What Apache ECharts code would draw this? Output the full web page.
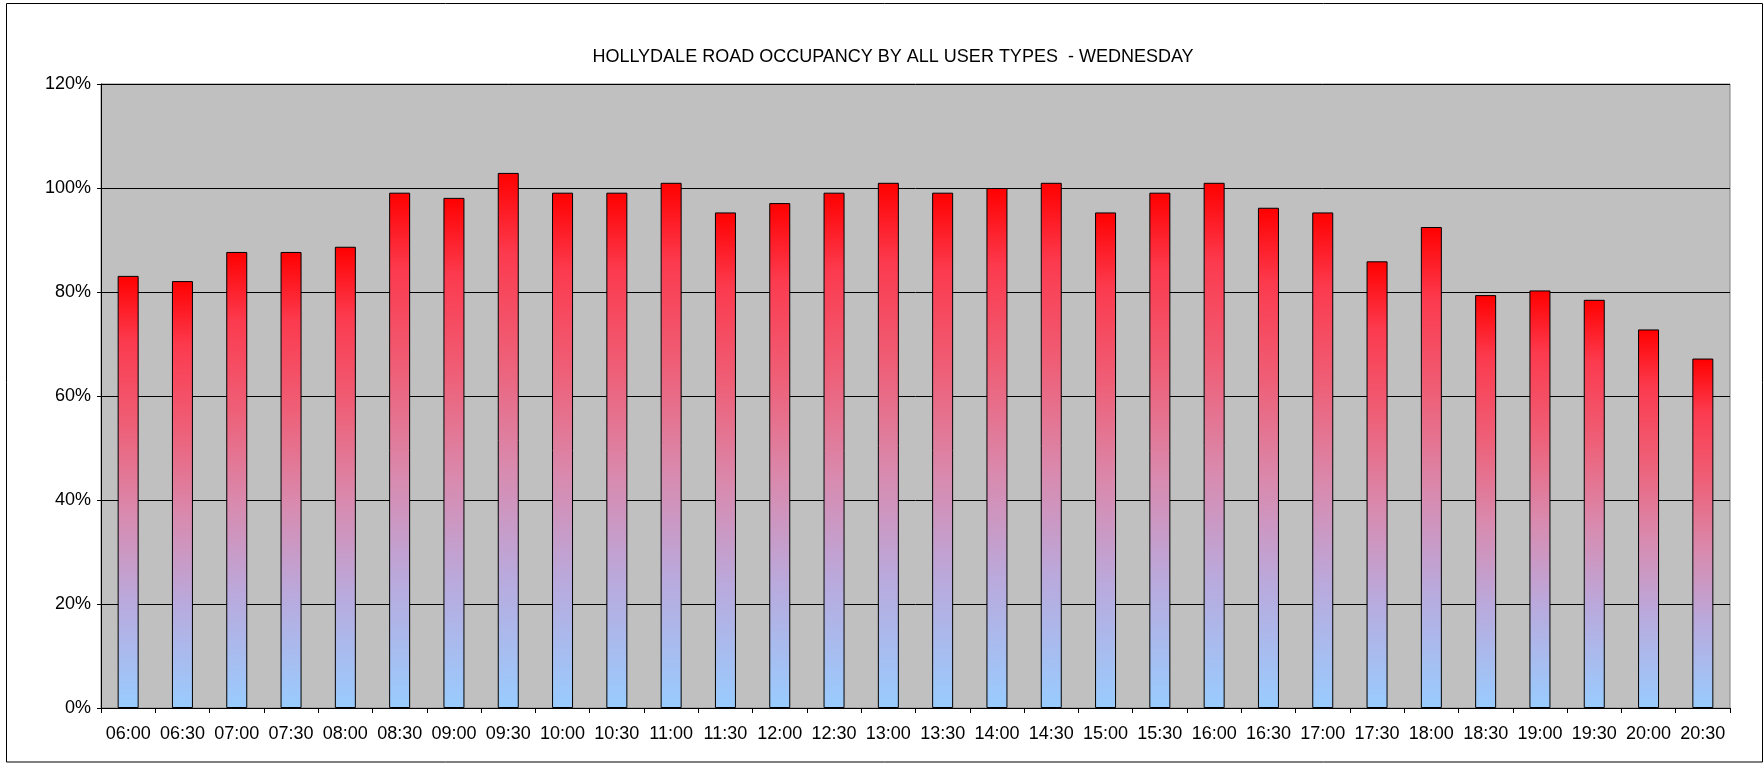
<!DOCTYPE html>
<html>
<head>
<meta charset="utf-8">
<script src="https://cdn.jsdelivr.net/npm/echarts@6/dist/echarts.min.js"></script>
<style>
  html,body{margin:0;padding:0;background:#fff;}
  #chart{width:1764px;height:763px;}
</style>
</head>
<body>
<div id="chart"></div>
<script>
const times = ["06:00","06:30","07:00","07:30","08:00","08:30","09:00","09:30","10:00","10:30",
  "11:00","11:30","12:00","12:30","13:00","13:30","14:00","14:30","15:00","15:30",
  "16:00","16:30","17:00","17:30","18:00","18:30","19:00","19:30","20:00","20:30"];
// occupancy, percent
const occupancy = [83.1, 82.1, 87.7, 87.7, 88.7, 99.1, 98.1, 102.9, 99.1, 99.1,
  101.0, 95.3, 97.1, 99.1, 101.0, 99.1, 100.0, 101.0, 95.3, 99.1,
  101.0, 96.2, 95.3, 85.9, 92.5, 79.4, 80.3, 78.5, 72.8, 67.2];
const yTicks = [0, 20, 40, 60, 80, 100, 120];

const font = "Liberation Sans, Arial, sans-serif";
const chart = echarts.init(document.getElementById("chart"));

const barFill = new echarts.graphic.LinearGradient(0, 0, 0, 1, [
  {offset:0, color:"#ff0000"},
  {offset:0.15, color:"#fc3a4e"},
  {offset:0.35, color:"#ee6078"},
  {offset:0.55, color:"#d98aae"},
  {offset:0.75, color:"#baa9dc"},
  {offset:1, color:"#99ccff"}
]);

chart.setOption({
  animation:false,
  backgroundColor:"#fff",
  title:{
    text:"HOLLYDALE ROAD OCCUPANCY BY ALL USER TYPES  - WEDNESDAY",
    left:888, top:43, textAlign:"center",
    textStyle:{fontFamily:font, fontSize:18, fontWeight:"normal", color:"#000"}
  },
  graphic:[{
    type:"rect", silent:true, z:-1,
    shape:{x:6.5, y:3.5, width:1756, height:758.5},
    style:{fill:"none", stroke:"#000", lineWidth:1}
  }],
  grid:{left:101, right:34, top:84, bottom:55, show:true, backgroundColor:"#c0c0c0", borderColor:"#808080", borderWidth:1},
  xAxis:{
    type:"category", data:times, boundaryGap:true,
    axisLine:{lineStyle:{color:"#000", width:1}},
    axisTick:{show:true, alignWithLabel:false, length:5, lineStyle:{color:"#000"}},
    axisLabel:{color:"#000", fontFamily:font, fontSize:18, margin:17, interval:0}
  },
  yAxis:{
    type:"value", min:yTicks[0], max:yTicks[yTicks.length-1], interval:20,
    axisLine:{show:true, lineStyle:{color:"#000", width:1}},
    axisTick:{show:true, length:4, lineStyle:{color:"#000"}},
    axisLabel:{color:"#000", fontFamily:font, fontSize:18, margin:10, formatter:"{value}%"},
    splitLine:{show:true, lineStyle:{color:"#000", width:1}}
  },
  series:[{
    type:"bar", data:occupancy, barWidth:21,
    itemStyle:{color:barFill, borderColor:"#000", borderWidth:1}
  }]
});
</script>
</body>
</html>
